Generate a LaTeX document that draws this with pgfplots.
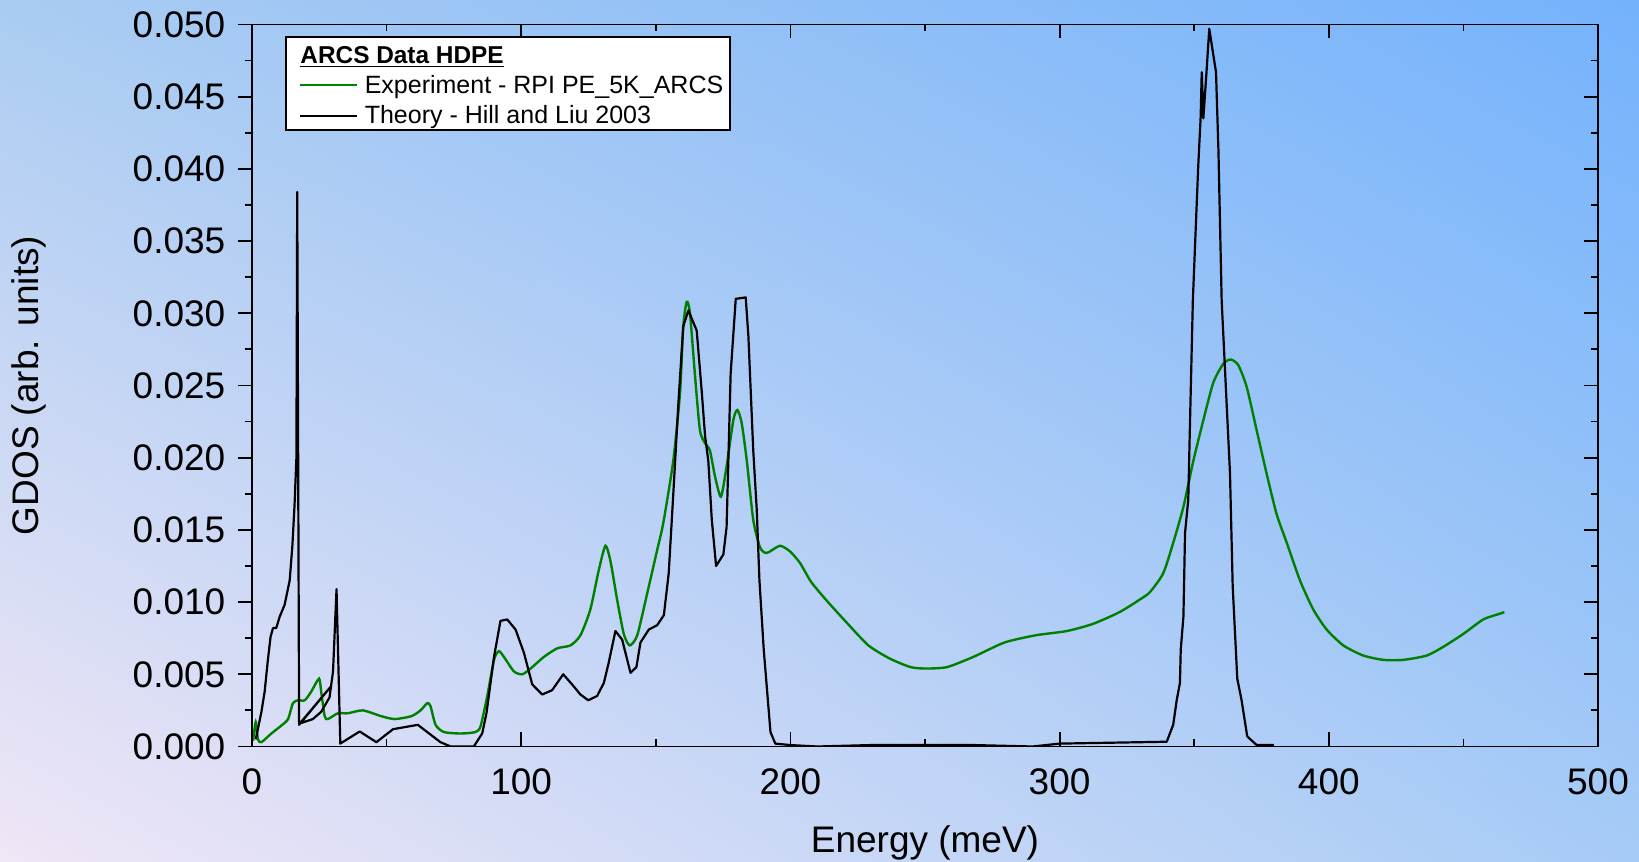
\documentclass[border=0pt]{standalone}
\usepackage{fontspec}
\setmainfont{Liberation Sans}
\usepackage{pgfplots}
\pgfplotsset{compat=1.18}
\usetikzlibrary{shadings}
\definecolor{expgreen}{RGB}{0,128,0}
\definecolor{bgTL}{RGB}{170,204,242}
\definecolor{bgTR}{RGB}{116,178,252}
\definecolor{bgBL}{RGB}{240,230,246}
\definecolor{bgBR}{RGB}{166,203,246}
\newcommand{\tickfont}{\fontsize{18.5}{22}\selectfont}
\newcommand{\legfont}{\fontsize{12.5}{15}\selectfont}
\begin{document}
\begin{tikzpicture}
\useasboundingbox (0,0) rectangle (819.5pt,431pt);
\shade[upper left=bgTL, upper right=bgTR, lower left=bgBL, lower right=bgBR] (0,0) rectangle (819.5pt,431pt);
\begin{axis}[
 at={(126pt,57.75pt)}, anchor=south west,
 width=673pt, height=361pt, scale only axis,
 xmin=0, xmax=500, ymin=0, ymax=0.05,
 xtick={0,100,200,300,400,500},
 ytick={0,0.005,0.01,0.015,0.02,0.025,0.03,0.035,0.04,0.045,0.05},
 minor x tick num=1, minor y tick num=1,
 scaled y ticks=false, scaled x ticks=false,
 xtick align=inside, ytick align=outside, ytick pos=left, xtick pos=both,
 major tick length=7pt, minor tick length=3.5pt,
 tick style={line width=0.9pt, black},
 axis line style={line width=0.9pt},
 /pgf/number format/assume math mode=true,
 xticklabel style={font=\tickfont, anchor=north, inner sep=0pt, yshift=-10.75pt},
 yticklabel style={/pgf/number format/fixed, /pgf/number format/fixed zerofill, /pgf/number format/precision=3, font=\tickfont, anchor=east, inner sep=0pt, xshift=-6.15pt},
 xlabel={Energy (meV)}, ylabel={GDOS (arb. units)},
 xlabel style={at={(axis description cs:0.5,-0.134)}, anchor=center, inner sep=0pt, font=\tickfont},
 ylabel style={at={(axis description cs:-0.1657,0.5)}, anchor=center, inner sep=0pt, font=\tickfont},
]
\addplot[expgreen, line width=1.2pt, smooth, tension=0.4] coordinates {
(0.4,0.0004) (1.4,0.0017) (2.2,0.0005) (3.5,0.0003) (7.2,0.0009) (10.9,0.00145)
(13.4,0.0019) (15.2,0.0030) (17.1,0.0032) (19.6,0.0032) (22.0,0.0038) (24.9,0.0047)
(25.7,0.0038) (27.0,0.0021) (28.2,0.0019) (31.9,0.0023) (35.6,0.0023) (41.2,0.0025)
(48.0,0.0021) (53.0,0.0019) (59.2,0.0021) (62.6,0.0025) (65.1,0.0030) (66.3,0.0028)
(68.2,0.0015) (71.3,0.0010) (77.5,0.0009) (83.0,0.0010) (84.9,0.0014) (87.4,0.0035)
(89.9,0.0060) (91.7,0.0066) (93.6,0.0062) (97.3,0.0052) (100.4,0.0050) (103.5,0.0054)
(108.4,0.0062) (113.4,0.0068) (118.3,0.0070) (122.0,0.0077) (125.7,0.0095) (128.8,0.0122)
(131.3,0.0139) (133.2,0.0128) (135.6,0.0102) (138.1,0.0078) (140.3,0.0070) (143.1,0.0077)
(146.8,0.0106) (150.5,0.0136) (152.8,0.0155) (156.5,0.0198) (159.0,0.0245) (160.2,0.0291)
(161.5,0.0308) (162.7,0.0300) (164.6,0.0256) (166.4,0.0219) (168.3,0.0210) (170.1,0.0205)
(172.0,0.0187) (174.2,0.0173) (176.3,0.0194) (178.8,0.0226) (180.3,0.0233) (181.9,0.0224)
(183.8,0.0198) (186.2,0.0157) (188.7,0.0138) (191.2,0.0134) (196.1,0.0139) (199.9,0.0135)
(203.6,0.0127) (207.7,0.0114) (213.5,0.0101) (221.3,0.0085) (229.0,0.0070) (236.8,0.0061)
(244.6,0.0055) (250.4,0.0054) (258.2,0.0055) (267.9,0.0062) (279.5,0.0072) (291.1,0.0077)
(302.8,0.0080) (312.5,0.0085) (322.2,0.0093) (330.0,0.0102) (333.6,0.0107) (338.5,0.0120)
(342.2,0.0141) (346.0,0.0166) (349.7,0.0198) (353.4,0.0226) (357.1,0.0252) (360.8,0.0265)
(363.6,0.0268) (366.4,0.0264) (369.5,0.0249) (373.2,0.0219) (376.9,0.0189) (380.6,0.0161)
(384.4,0.0141) (389.3,0.0115) (394.2,0.0095) (399.2,0.0081) (405.4,0.0070) (412.8,0.0063)
(420.3,0.0060) (427.7,0.0060) (436.4,0.0063) (442.5,0.0069) (450.0,0.0078) (457.4,0.0088)
(463.6,0.0092) (465.2,0.0093)
};
\addplot[black, line width=1.1pt, line join=round] coordinates {
(1.4,0.0005) (3.5,0.0024) (4.7,0.0038) (5.9,0.0060) (6.9,0.0076) (7.8,0.0082) (9.0,0.0082)
(10.3,0.0090) (12.1,0.0098) (14.0,0.0115) (15.0,0.0139) (15.8,0.0167) (16.5,0.0200)
(16.8,0.0384) (17.5,0.0015) (29.5,0.0042) (17.8,0.0016) (22.6,0.0019) (25.7,0.0024)
(28.8,0.0034) (30.1,0.0052) (31.4,0.0109) (32.8,0.0002) (40.0,0.00104) (46.2,0.0003)
(52.4,0.0012) (61.6,0.0015) (65.1,0.0010) (70.0,0.0003) (73.8,0.0000) (82.4,0.0000)
(85.5,0.0009) (87.1,0.0023) (89.9,0.0062) (92.3,0.0087) (94.8,0.0088) (97.9,0.0081)
(101.0,0.0065) (104.1,0.0043) (107.8,0.0036) (111.5,0.0039) (115.6,0.0050) (118.9,0.0043)
(122.0,0.0036) (124.9,0.0032) (128.2,0.0035) (130.7,0.0044) (132.5,0.0058) (135.0,0.0080)
(137.5,0.0074) (140.6,0.0051) (142.8,0.0055) (144.3,0.0072) (147.4,0.0081) (150.5,0.0084)
(153.0,0.0091) (154.8,0.0120) (156.5,0.0175) (158.4,0.0238) (160.2,0.0291) (162.1,0.0302)
(165.2,0.0288) (167.1,0.0245) (168.3,0.0215) (169.5,0.0198) (170.8,0.0157) (172.4,0.0125)
(175.1,0.0133) (176.3,0.0152) (177.8,0.0258) (179.7,0.0310) (183.4,0.0311) (184.4,0.0284)
(186.2,0.0205) (187.5,0.0164) (188.5,0.0115) (190.1,0.0067) (192.6,0.0010) (194.4,0.0002)
(200.0,0.0001) (210.0,0.0000) (230.0,0.0001) (268.0,0.0001) (290.0,0.0000) (300.0,0.0002)
(339.8,0.00033) (342.2,0.0015) (343.5,0.0032) (344.7,0.0044) (345.0,0.0067) (346.0,0.0090)
(346.6,0.0148) (347.8,0.0171) (348.4,0.0221) (349.5,0.0309) (351.5,0.0402) (352.4,0.0436)
(352.8,0.0467) (353.4,0.0435) (354.6,0.0468) (355.6,0.0497) (358.1,0.0467) (359.0,0.0413)
(360.2,0.0309) (363.3,0.0189) (364.3,0.0111) (366.0,0.0047) (367.6,0.0032) (369.7,0.0007)
(373.2,0.0001) (379.6,0.0001)
};
\end{axis}
\begin{axis}[
 at={(126pt,57.75pt)}, anchor=south west,
 width=673pt, height=361pt, scale only axis,
 xmin=0, xmax=500, ymin=0, ymax=0.05,
 xtick=\empty,
 ytick={0,0.005,0.01,0.015,0.02,0.025,0.03,0.035,0.04,0.045,0.05},
 minor y tick num=1, yticklabels={}, scaled y ticks=false,
 ytick pos=right, ytick align=inside,
 major tick length=7pt, minor tick length=3.5pt,
 tick style={line width=0.9pt, black},
 axis line style={line width=0.9pt},
]
\end{axis}
\draw[line width=0.6pt, fill=white] (143pt,412.5pt) rectangle (365pt,366pt);
\node[anchor=base west, inner sep=0pt, font=\fontsize{12.2}{15}\selectfont] at (150pt,399.35pt) {\textbf{\underline{ARCS Data HDPE}}};
\draw[expgreen, line width=1.2pt] (150pt,388.35pt) -- (178.3pt,388.35pt);
\node[anchor=base west, inner sep=0pt, font=\legfont] at (182.2pt,384pt) {Experiment - RPI PE\_5K\_ARCS};
\draw[black, line width=1.1pt] (150pt,373pt) -- (178.3pt,373pt);
\node[anchor=base west, inner sep=0pt, font=\legfont] at (182.2pt,369pt) {Theory - Hill and Liu 2003};
\end{tikzpicture}
\end{document}
